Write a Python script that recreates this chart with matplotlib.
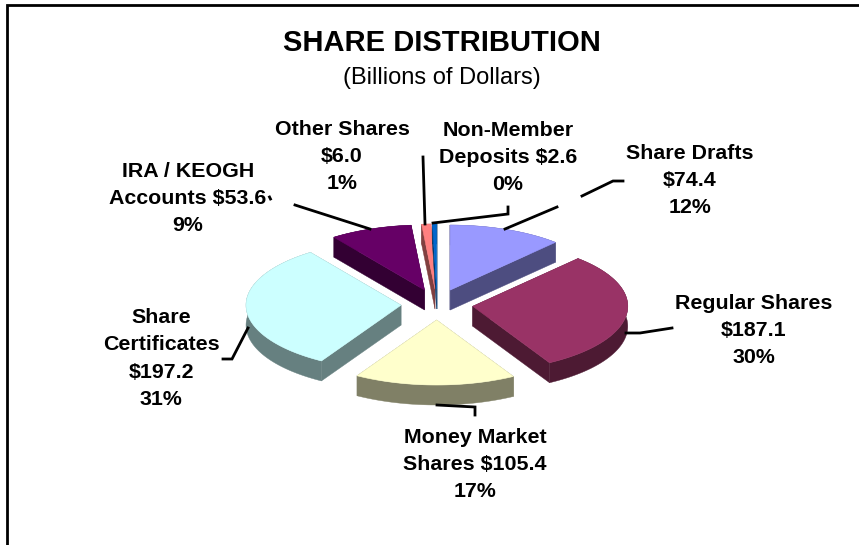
import numpy as np
import matplotlib
matplotlib.use("Agg")
import matplotlib.pyplot as plt

plt.rcParams['font.family'] = ['Liberation Sans', 'DejaVu Sans']

# ---- data ----
categories = ["Share Drafts", "Regular Shares", "Money Market Shares", "Share Certificates",
              "IRA / KEOGH Accounts", "Other Shares", "Non-Member Deposits"]
values = [74.4, 187.1, 105.4, 197.2, 53.6, 6.0, 2.6]
percents = [12, 30, 17, 31, 9, 1, 0]
top_colors = ["#9999FF", "#993366", "#FFFFCC", "#CCFFFF", "#660066", "#FF8080", "#0066CC"]
side_colors = ["#4D4D80", "#4D1A33", "#808066", "#668080", "#330033", "#804040", "#003366"]
label_text = ["Share Drafts\n${v}\n{p}%", "Regular Shares\n${v}\n{p}%", "Money Market\nShares ${v}\n{p}%",
              "Share\nCertificates\n${v}\n{p}%", "IRA / KEOGH\nAccounts ${v}\n{p}%",
              "Other Shares\n${v}\n{p}%", "Non-Member\nDeposits ${v}\n{p}%"]
label_pos = [(690, 180.5), (754, 330.5), (475, 464.5), (161, 358.5), (188, 198.5), (342, 156.5), (508, 157.5)]

# ---- layout ----
W, H = 859, 545
CX, CY = 437.0, 304.5      # pie centre in pixels
RX, RY = 155.0, 65.0       # ellipse radii of the tilted pie
EX, EY = 36.0, 15.5        # explosion offset
DEPTH = 20.0

fig = plt.figure(figsize=(W / 100, H / 100), dpi=100)
ax = fig.add_axes([0, 0, 1, 1])
ax.set_xlim(0, W)
ax.set_ylim(H, 0)
ax.axis("off")


def ell(theta):
    return RX * np.sin(theta), -RY * np.cos(theta)


edges = np.concatenate([[0], np.cumsum(values)]) / np.sum(values) * 2 * np.pi
for i in range(len(values)):
    t0, t1 = edges[i], edges[i + 1]
    mid = (t0 + t1) / 2
    ax0 = CX + EX * np.sin(mid)
    ay0 = CY - EY * np.cos(mid)
    th = np.linspace(t0, t1, 120)
    ex, ey = ell(th)
    xs, ys = ax0 + ex, ay0 + ey
    z = 2 + i * 0.01
    # radial side walls
    for (px, py) in ((xs[0], ys[0]), (xs[-1], ys[-1])):
        ax.fill([ax0, px, px, ax0], [ay0, py, py + DEPTH, ay0 + DEPTH],
                fc=side_colors[i], ec=side_colors[i], lw=0.3, zorder=z)
    # outer wall
    ax.fill(np.r_[xs, xs[::-1]], np.r_[ys, ys[::-1] + DEPTH],
            fc=side_colors[i], ec=side_colors[i], lw=0.3, zorder=z)
    # top
    ax.fill(np.r_[ax0, xs], np.r_[ay0, ys], fc=top_colors[i], ec=top_colors[i], lw=0.4, zorder=z + 0.001)

# leader lines
leaders = [
    [(623, 181), (613, 181), (582, 196)],
    [(557, 207), (505, 229)],
    [(672, 328), (640, 333), (626, 333)],
    [(475, 415), (475, 407), (437, 405)],
    [(223, 359), (232, 359), (248, 328)],
    [(295, 205), (370, 229)],
    [(269.5, 197), (270.5, 199)],
    [(423, 157), (425, 224)],
    [(508, 207), (508, 214), (433, 223)],
]
for seg in leaders:
    ax.plot(*zip(*seg), color="black", lw=2.0, solid_joinstyle="miter", zorder=5)

# frame
ax.plot([7, 7, W], [H, 5, 5], color="black", lw=2.0, solid_joinstyle="miter", zorder=6)

# text
ax.text(442, 43, "SHARE DISTRIBUTION", ha="center", va="center", fontsize=21, fontweight="bold")
ax.text(442, 78, "(Billions of Dollars)", ha="center", va="center", fontsize=17)
for i in range(len(values)):
    ax.text(*label_pos[i], label_text[i].format(v=values[i], p=percents[i]),
            ha="center", va="center", fontsize=15.4, fontweight="bold", linespacing=1.55, zorder=7)

fig.savefig("out.png", dpi=100, facecolor="white")
